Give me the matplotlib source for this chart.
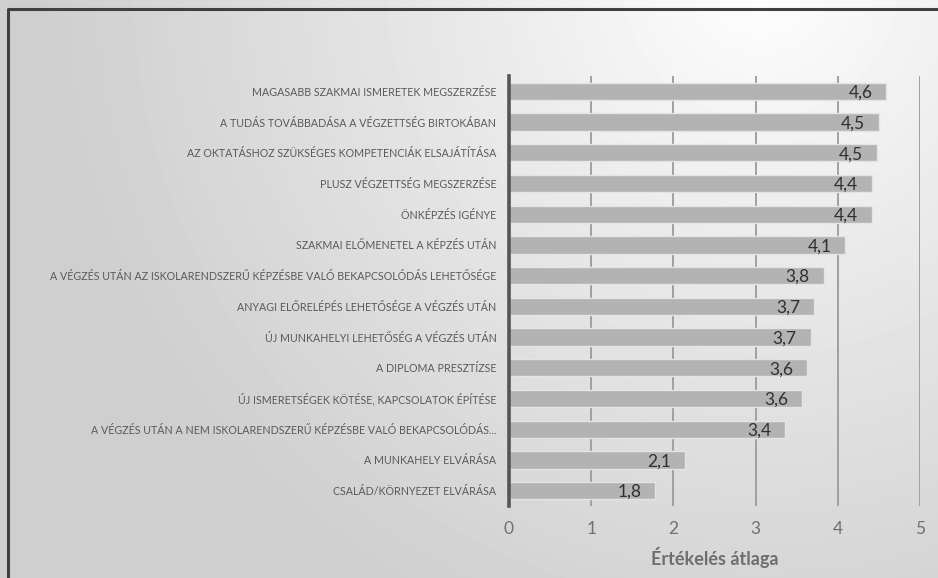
import numpy as np
import matplotlib
matplotlib.use('Agg')
import matplotlib.pyplot as plt

plt.rcParams['font.family'] = ['Lato', 'DejaVu Sans']

kategoriak = ['MAGASABB SZAKMAI ISMERETEK MEGSZERZÉSE',
              'A TUDÁS TOVÁBBADÁSA A VÉGZETTSÉG BIRTOKÁBAN',
              'AZ OKTATÁSHOZ SZÜKSÉGES KOMPETENCIÁK ELSAJÁTÍTÁSA',
              'PLUSZ VÉGZETTSÉG MEGSZERZÉSE',
              'ÖNKÉPZÉS IGÉNYE',
              'SZAKMAI ELŐMENETEL A KÉPZÉS UTÁN',
              'A VÉGZÉS UTÁN AZ ISKOLARENDSZERŰ KÉPZÉSBE VALÓ BEKAPCSOLÓDÁS LEHETŐSÉGE',
              'ANYAGI ELŐRELÉPÉS LEHETŐSÉGE A VÉGZÉS UTÁN',
              'ÚJ MUNKAHELYI LEHETŐSÉG A VÉGZÉS UTÁN',
              'A DIPLOMA PRESZTÍZSE',
              'ÚJ ISMERETSÉGEK KÖTÉSE, KAPCSOLATOK ÉPÍTÉSE',
              'A VÉGZÉS UTÁN A NEM ISKOLARENDSZERŰ KÉPZÉSBE VALÓ BEKAPCSOLÓDÁS...',
              'A MUNKAHELY ELVÁRÁSA',
              'CSALÁD/KÖRNYEZET ELVÁRÁSA']
atlag = [4.59, 4.50, 4.48, 4.41, 4.41, 4.09, 3.83, 3.71, 3.67, 3.63, 3.57, 3.36, 2.14, 1.78]
x_ticks = [0, 1, 2, 3, 4, 5]

fig = plt.figure(figsize=(9.38, 5.78), dpi=100)

# háttér: radiális színátmenet
bg = fig.add_axes([0, 0, 1, 1], zorder=-10)
w, h = 938, 578
yy, xx = np.mgrid[0:h, 0:w]
d = np.sqrt((xx - 760) ** 2 + (yy + 20) ** 2) / 720
d = np.clip(d, 0, 1) ** 0.9
szin = 1.0 - d * (1.0 - 0.81)
bg.imshow(szin, cmap='gray', vmin=0, vmax=1, extent=[0, w, h, 0], aspect='auto')
bg.plot([7.5, 7.5, w + 5], [h + 5, 8.5, 8.5], color='#404040', lw=2.2)
bg.set_xlim(0, w)
bg.set_ylim(h, 0)
bg.axis('off')

ax = fig.add_axes([509 / w, 1 - 506 / h, 411 / w, 430 / h])
ax.patch.set_alpha(0)
y = np.arange(len(kategoriak))[::-1]
bars = ax.barh(y, atlag, height=0.56, color='#b3b3b3', edgecolor='#e4e4e4', linewidth=1.0, zorder=3)
for b, v in zip(bars, atlag):
    ax.annotate(f'{v:.1f}'.replace('.', ','), (v, b.get_y() + b.get_height() / 2),
                xytext=(-10, -1), textcoords='offset points', ha='right', va='center',
                fontsize=12.5, color='#303030', zorder=4)

ax.set_xlim(0, 5)
ax.set_ylim(-0.5, len(kategoriak) - 0.5)
ax.set_xticks(x_ticks)
ax.set_xticklabels([str(t) for t in x_ticks], fontsize=12.5, color='#707070')
ax.set_yticks(y)
ax.set_yticklabels(kategoriak, fontsize=7.7, color='#595959')
ax.tick_params(axis='both', length=0)
ax.tick_params(axis='x', pad=11)
ax.tick_params(axis='y', pad=9)
ax.grid(axis='x', color='#a0a0a0', lw=1.4, zorder=1)
for s in ['top', 'right', 'bottom']:
    ax.spines[s].set_visible(False)
ax.spines['left'].set_color('#555555')
ax.spines['left'].set_linewidth(2.6)
ax.spines['left'].set_zorder(5)
ax.set_xlabel('Értékelés átlaga', fontsize=13, fontweight='bold', color='#6e6e6e', labelpad=7)

fig.savefig('out.png', dpi=100)
